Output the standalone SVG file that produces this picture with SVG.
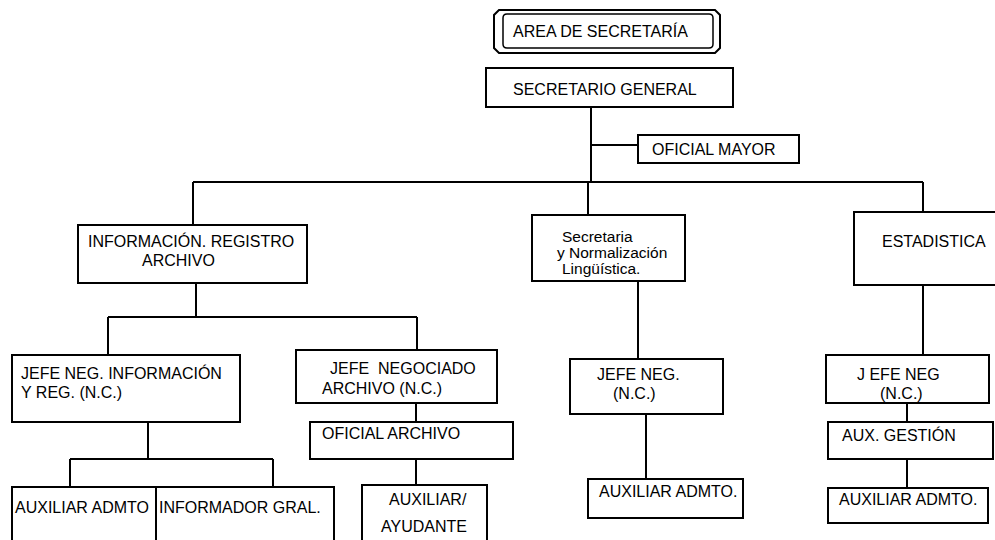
<svg xmlns="http://www.w3.org/2000/svg" width="995" height="540" viewBox="0 0 995 540">
<style>
  .box { fill: #ffffff; stroke: #000000; stroke-width: 2; }
  .ln { fill: none; stroke: #000000; stroke-width: 2; }
  text { font-family: "Liberation Sans", Arial, sans-serif; font-size: 16px; fill: #000000; }
  .sm { font-size: 15.5px; }
</style>
<rect x="0" y="0" width="995" height="540" fill="#ffffff"/>
<g id="connectors">
  <path class="ln" d="M591 107 V182"/>
  <path class="ln" d="M591 145 H638"/>
  <path class="ln" d="M193 182 H923"/>
  <path class="ln" d="M193 182 V225"/>
  <path class="ln" d="M588 182 V215"/>
  <path class="ln" d="M923 182 V212"/>
  <path class="ln" d="M196 283 V317"/>
  <path class="ln" d="M108 317 H417"/>
  <path class="ln" d="M108 317 V355"/>
  <path class="ln" d="M417 317 V350"/>
  <path class="ln" d="M148 422 V459"/>
  <path class="ln" d="M70 459 H273"/>
  <path class="ln" d="M70 459 V487"/>
  <path class="ln" d="M273 459 V487"/>
  <path class="ln" d="M416 403 V422"/>
  <path class="ln" d="M416 459 V485"/>
  <path class="ln" d="M638 281 V359"/>
  <path class="ln" d="M646 414 V479"/>
  <path class="ln" d="M923 285 V355"/>
  <path class="ln" d="M907 403 V422"/>
  <path class="ln" d="M907 459 V488"/>
</g>
<g id="title">
  <path class="box" d="M499 10 H715 L720 15 V48 L715 53 H499 L494 48 V15 Z"/>
  <path fill="none" stroke="#000" stroke-width="1.5" d="M507 14 H709 Q713 14 713 18 V44 Q713 48 709 48 H507 Q503 48 503 44 V18 Q503 14 507 14 Z"/>
  <text x="513" y="37">AREA DE SECRETARÍA</text>
</g>
<g id="secretario-general">
  <rect class="box" x="486" y="68" width="247" height="39"/>
  <text x="513" y="95">SECRETARIO GENERAL</text>
</g>
<g id="oficial-mayor">
  <rect class="box" x="638" y="135" width="161" height="28"/>
  <text x="652" y="155">OFICIAL MAYOR</text>
</g>
<g id="informacion">
  <rect class="box" x="78" y="225" width="229" height="58"/>
  <text x="88" y="247">INFORMACIÓN. REGISTRO</text>
  <text x="142" y="266">ARCHIVO</text>
</g>
<g id="secretaria-normalizacion">
  <rect class="box" x="532" y="215" width="153" height="66"/>
  <text class="sm" x="562" y="242">Secretaria</text>
  <text class="sm" x="557" y="258">y Normalización</text>
  <text class="sm" x="562" y="274">Lingüística.</text>
</g>
<g id="estadistica">
  <rect class="box" x="854" y="212" width="150" height="73"/>
  <text x="882" y="247">ESTADISTICA</text>
</g>
<g id="jefe-neg-informacion">
  <rect class="box" x="12" y="355" width="228" height="67"/>
  <text x="21" y="379">JEFE NEG. INFORMACIÓN</text>
  <text x="21" y="398">Y REG. (N.C.)</text>
</g>
<g id="jefe-negociado-archivo">
  <rect class="box" x="296" y="350" width="201" height="53"/>
  <text x="330" y="374" xml:space="preserve">JEFE  NEGOCIADO</text>
  <text x="322" y="394">ARCHIVO (N.C.)</text>
</g>
<g id="oficial-archivo">
  <rect class="box" x="310" y="422" width="203" height="37"/>
  <text x="322" y="439">OFICIAL ARCHIVO</text>
</g>
<g id="auxiliar-admto-1">
  <rect class="box" x="12" y="487" width="144" height="60"/>
  <text x="15" y="513">AUXILIAR ADMTO</text>
</g>
<g id="informador-gral">
  <rect class="box" x="156" y="487" width="178" height="60"/>
  <text x="159" y="513">INFORMADOR GRAL.</text>
</g>
<g id="auxiliar-ayudante">
  <rect class="box" x="362" y="485" width="125" height="62"/>
  <text x="389" y="505">AUXILIAR/</text>
  <text x="381" y="532">AYUDANTE</text>
</g>
<g id="jefe-neg-2">
  <rect class="box" x="570" y="359" width="153" height="55"/>
  <text x="597" y="380">JEFE NEG.</text>
  <text x="613" y="399">(N.C.)</text>
</g>
<g id="auxiliar-admto-2">
  <rect class="box" x="588" y="479" width="155" height="39"/>
  <text x="599" y="497">AUXILIAR ADMTO.</text>
</g>
<g id="jefe-neg-3">
  <rect class="box" x="826" y="355" width="163" height="48"/>
  <text x="857" y="380">J EFE NEG</text>
  <text x="880" y="399">(N.C.)</text>
</g>
<g id="aux-gestion">
  <rect class="box" x="828" y="422" width="165" height="37"/>
  <text x="842" y="441">AUX. GESTIÓN</text>
</g>
<g id="auxiliar-admto-3">
  <rect class="box" x="828" y="488" width="160" height="35"/>
  <text x="839" y="505">AUXILIAR ADMTO.</text>
</g>
</svg>
